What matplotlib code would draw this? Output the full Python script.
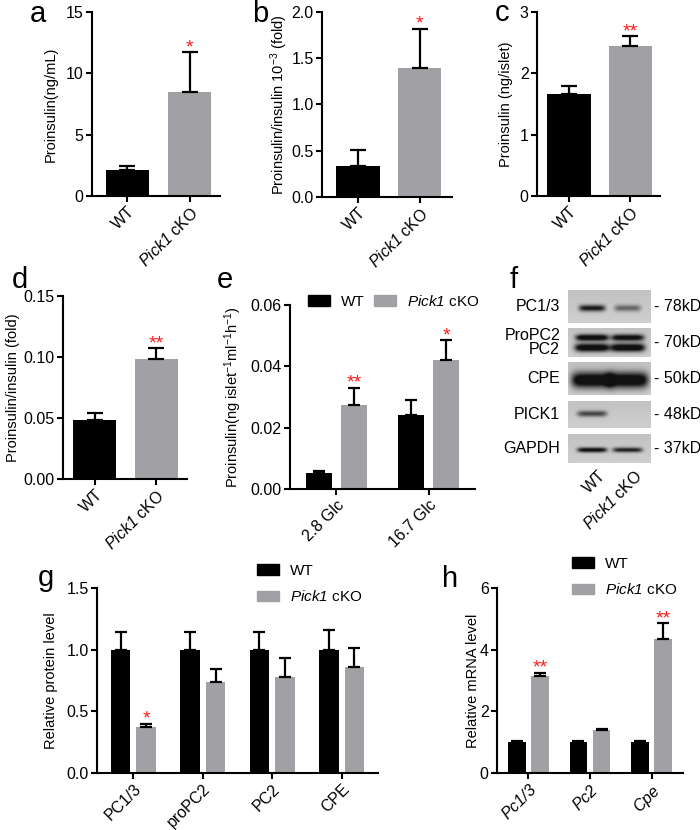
import numpy as np
import matplotlib
matplotlib.use("Agg")
import matplotlib.pyplot as plt
from matplotlib.patches import Patch

plt.rcParams["font.family"] = ["Liberation Sans", "DejaVu Sans"]
plt.rcParams["mathtext.fontset"] = "custom"
plt.rcParams["mathtext.rm"] = "Liberation Sans"
plt.rcParams["mathtext.it"] = "Liberation Sans:italic"
# \mathsf used for gene names so digits come out italic too
plt.rcParams["mathtext.sf"] = "Liberation Sans:italic"
plt.rcParams["axes.linewidth"] = 1.5

# ── data ──
two_groups = ["WT", r"$\mathsf{Pick1}$ cKO"]

a_mean = [2.1, 8.5]
a_err = [0.37, 3.2]
a_sig = ["", "*"]

b_mean = [0.33, 1.39]
b_err = [0.18, 0.43]
b_sig = ["", "*"]

c_mean = [1.66, 2.45]
c_err = [0.14, 0.16]
c_sig = ["", "**"]

d_mean = [0.048, 0.098]
d_err = [0.006, 0.009]
d_sig = ["", "**"]

e_conds = ["2.8 Glc", "16.7 Glc"]
e_wt = [0.0052, 0.024]
e_wt_err = [0.0008, 0.005]
e_ko = [0.0275, 0.042]
e_ko_err = [0.0055, 0.0065]
e_sig = ["**", "*"]

g_prot = ["PC1/3", "proPC2", "PC2", "CPE"]
g_wt = [1.0, 1.0, 1.0, 1.0]
g_wt_err = [0.14, 0.14, 0.14, 0.16]
g_ko = [0.37, 0.74, 0.78, 0.86]
g_ko_err = [0.03, 0.10, 0.15, 0.15]
g_sig = ["*", "", "", ""]

h_genes = [r"$\mathsf{Pc1/3}$", r"$\mathsf{Pc2}$", r"$\mathsf{Cpe}$"]
h_wt = [1.0, 1.0, 1.0]
h_wt_err = [0.03, 0.03, 0.03]
h_ko = [3.15, 1.38, 4.33]
h_ko_err = [0.10, 0.06, 0.52]
h_sig = ["**", "", "**"]

# western blot: per strip, bands as (y centre, thickness, lane half-width, [WT, cKO] darkness)
blot_rows = ["PC1/3", "ProPC2\nPC2", "CPE", "PICK1", "GAPDH"]
blot_kd = ["78kD", "70kD", "50kD", "48kD", "37kD"]
blot_bands = [
    [(0.55, 0.07, 0.16, [0.75, 0.42])],
    [(0.33, 0.08, 0.20, [0.95, 0.88]), (0.68, 0.10, 0.21, [1.0, 1.0])],
    [(0.55, 0.17, 0.25, [1.0, 1.0])],
    [(0.47, 0.08, 0.18, [0.55, 0.0])],
    [(0.55, 0.06, 0.18, [0.85, 0.72])],
]

WT_COL = "#000000"
KO_COL = "#a1a1a5"
STAR = "#ff1a1a"

W, H = 700, 830
fig = plt.figure(figsize=(7, 8.3), dpi=100)


def rect(x0, y0, x1, y1):
    return [x0 / W, 1 - y1 / H, (x1 - x0) / W, (y1 - y0) / H]


def px(x, y):
    return (x / W, 1 - y / H)


def style(ax, label, label_x):
    for s in ["top", "right"]:
        ax.spines[s].set_visible(False)
    ax.tick_params(direction="out", length=4.5, width=1.5, labelsize=11.5, pad=1.5)
    ax.set_ylabel(label, fontsize=10.5)
    # place y label by its centre (pixels)
    bb = ax.get_position()
    x0 = bb.x0 * W
    ax.yaxis.set_label_coords((label_x + 5 - x0) / (bb.width * W), 0.5)


def stars(ax, xs, tops, sig):
    for xi, t, s in zip(xs, tops, sig):
        if s:
            ax.annotate(s, (xi, t), xytext=(0, -3), textcoords="offset points",
                        ha="center", va="bottom", color=STAR, fontsize=14)


def two_bar(ax, mean, err, sig, ylim, yticks, fmt, ylabel, label_x, xlim):
    x = np.arange(len(mean))
    ax.bar(x, mean, width=0.7, color=[WT_COL, KO_COL])
    ax.errorbar(x, mean, yerr=[np.zeros(len(err)), err], fmt="none",
                ecolor="black", elinewidth=1.6, capsize=6, capthick=1.6)
    stars(ax, x, np.add(mean, err), sig)
    ax.set_xlim(*xlim)
    ax.set_ylim(*ylim)
    ax.set_yticks(yticks)
    ax.set_yticklabels([fmt.format(v) for v in yticks])
    ax.set_xticks(x)
    ax.set_xticklabels(two_groups, rotation=45, ha="right", rotation_mode="anchor")
    style(ax, ylabel, label_x)


def grouped(ax, cats, wt, wt_err, ko, ko_err, sig, off, bw, ylabel, label_x):
    x = np.arange(len(cats))
    ax.bar(x - off, wt, width=bw, color=WT_COL)
    ax.bar(x + off, ko, width=bw, color=KO_COL)
    ax.errorbar(x - off, wt, yerr=[np.zeros(len(wt)), wt_err], fmt="none",
                ecolor="black", elinewidth=1.6, capsize=4, capthick=1.6)
    ax.errorbar(x + off, ko, yerr=[np.zeros(len(ko)), ko_err], fmt="none",
                ecolor="black", elinewidth=1.6, capsize=4, capthick=1.6)
    stars(ax, x + off, np.add(ko, ko_err), sig)
    ax.set_xticks(x)
    ax.set_xticklabels(cats, rotation=45, ha="right", rotation_mode="anchor")
    style(ax, ylabel, label_x)


def legend(ax, anchor, ncol=1, colsp=0.9):
    ax.legend([Patch(color=WT_COL), Patch(color=KO_COL)], two_groups,
              loc="upper left", bbox_to_anchor=px(*anchor), bbox_transform=fig.transFigure,
              ncol=ncol, frameon=False, fontsize=11, handlelength=1.45, handleheight=0.7,
              columnspacing=colsp, handletextpad=0.7, labelspacing=0.75,
              borderaxespad=0, borderpad=0)


# ── a ──
ax_a = fig.add_axes(rect(92, 12, 220, 196))
two_bar(ax_a, a_mean, a_err, a_sig, (0, 15), [0, 5, 10, 15], "{:.0f}",
        "Proinsulin(ng/mL)", 53, (-0.57, 1.49))

# ── b ──
ax_b = fig.add_axes(rect(322, 12, 452, 197))
two_bar(ax_b, b_mean, b_err, b_sig, (0, 2), [0, 0.5, 1.0, 1.5, 2.0], "{:.1f}",
        r"Proinsulin/insulin 10$^{-3}$ (fold)", 285, (-0.58, 1.52))

# ── c ──
ax_c = fig.add_axes(rect(537, 12, 660, 196))
two_bar(ax_c, c_mean, c_err, c_sig, (0, 3), [0, 1, 2, 3], "{:.0f}",
        "Proinsulin (ng/islet)", 508, (-0.52, 1.48))

# ── d ──
ax_d = fig.add_axes(rect(63, 296, 187, 479))
two_bar(ax_d, d_mean, d_err, d_sig, (0, 0.15), [0, 0.05, 0.10, 0.15], "{:.2f}",
        "Proinsulin/insulin (fold)", 15, (-0.52, 1.5))

# ── e ──
ax_e = fig.add_axes(rect(290, 305, 475, 489))
grouped(ax_e, e_conds, e_wt, e_wt_err, e_ko, e_ko_err, e_sig, 0.19, 0.28,
        r"Proinsulin(ng islet$^{-1}$ml$^{-1}$h$^{-1}$)", 239)
ax_e.set_xlim(-0.5, 1.5)
ax_e.set_ylim(0, 0.06)
ax_e.set_yticks([0, 0.02, 0.04, 0.06])
ax_e.set_yticklabels(["0.00", "0.02", "0.04", "0.06"])
legend(ax_e, (308, 294), ncol=2, colsp=0.6)

# ── f : western blot ──
strips = [(290, 323), (328, 357), (363, 395), (401, 428), (434, 463)]
ax_f = fig.add_axes(rect(568, 290, 651, 463))
ax_f.set_xlim(0, 83)
ax_f.set_ylim(463, 290)
ax_f.axis("off")
lanes = [0.29, 0.72]
gx = np.linspace(0, 1, 166)
for (y0, y1), bands, name, kd in zip(strips, blot_bands, blot_rows, blot_kd):
    gy = np.linspace(0, 1, 2 * (y1 - y0))
    img = np.full((gy.size, gx.size), 0.19) + 0.05 * (1 - gy[:, None])
    for yc, th, hw, inten in bands:
        for lc, v in zip(lanes, inten):
            prof = np.exp(-((gx - lc) / hw) ** 6)[None, :] * \
                np.exp(-0.5 * ((gy - yc) / th) ** 2)[:, None]
            img += 0.95 * v * prof
    ax_f.imshow(np.clip(img, 0, 0.93), cmap="gray_r", vmin=0, vmax=1, aspect="auto",
                extent=(0, 83, y1, y0), interpolation="bilinear")
    ym = (y0 + y1) / 2
    ax_f.text(-8, ym, name, ha="right", va="center", fontsize=11.5, linespacing=0.95)
    ax_f.text(86, ym, "- " + kd, ha="left", va="center", fontsize=11.5)
for lc, lab in zip(lanes, two_groups):
    ax_f.text(lc * 83 + 6, 468, lab, rotation=45, ha="right", va="top",
              rotation_mode="anchor", fontsize=11.5)

# ── g ──
ax_g = fig.add_axes(rect(97, 588, 378, 773))
grouped(ax_g, g_prot, g_wt, g_wt_err, g_ko, g_ko_err, g_sig, 0.183, 0.28,
        "Relative protein level", 53)
ax_g.set_xlim(-0.525, 3.525)
ax_g.set_ylim(0, 1.5)
ax_g.set_yticks([0, 0.5, 1.0, 1.5])
ax_g.set_yticklabels(["0.0", "0.5", "1.0", "1.5"])
legend(ax_g, (257, 564))

# ── h ──
ax_h = fig.add_axes(rect(497, 588, 683, 773))
grouped(ax_h, h_genes, h_wt, h_wt_err, h_ko, h_ko_err, h_sig, 0.187, 0.29,
        "Relative mRNA level", 475)
ax_h.set_xlim(-0.51, 2.51)
ax_h.set_ylim(0, 6)
ax_h.set_yticks([0, 2, 4, 6])
legend(ax_h, (572, 557))

# ── panel letters ──
for lab, (x, y) in zip("abcdefgh", [(30, 22), (252, 22), (495, 21), (12, 288),
                                    (217, 288), (510, 288), (38, 586), (442, 587)]):
    fig.text(*px(x, y), lab, fontsize=21, va="baseline", ha="left")

fig.savefig("out.png", dpi=100, facecolor="white")
